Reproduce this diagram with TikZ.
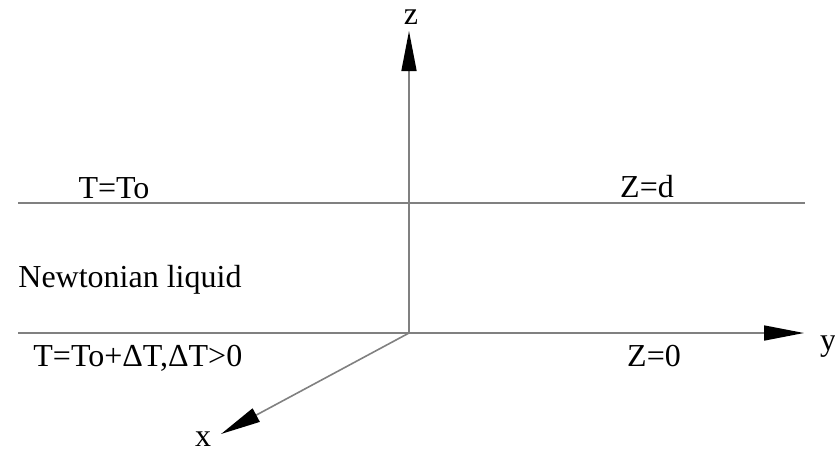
\documentclass[tikz,border=0pt]{standalone}
\usepackage{fontspec}
\setmainfont{Liberation Serif}
\usetikzlibrary{arrows.meta}

\begin{document}
\begin{tikzpicture}[
  x=0.5pt, y=-0.5pt,
  font=\fontsize{16}{19}\selectfont,
  axis/.style={draw=black!50, line width=0.8pt},
  arrow/.style={axis, -{Triangle[length=20pt, width=7.5pt, color=black]}},
  lbl/.style={inner sep=0pt, anchor=base}
]
  \useasboundingbox (0,0) rectangle (835,452);

  % axes and layer boundaries
  \coordinate (O) at (409,333);
  \coordinate (ztip) at (409,31);
  \coordinate (ytip) at (804,333);
  \coordinate (xtip) at (221,434);
  \coordinate (left0) at (18,333);
  \coordinate (leftd) at (18,203);
  \coordinate (rightd) at (805,203);

  \draw[axis] (leftd) -- (rightd);
  \draw[arrow] (left0) -- (ytip);
  \draw[arrow] (O) -- (ztip);
  \draw[arrow] (O) -- (xtip);

  % labels
  \node[lbl] (zlab) at (411,24) {z};
  \node[lbl] (ylab) at (828,350) {y};
  \node[lbl] (xlab) at (203,446) {x};
  \node[lbl] (top) at (114,198) {T=To};
  \node[lbl] (zd) at (647,197) {Z=d};
  \node[lbl, anchor=base west] (liq) at (18,287) {Newtonian liquid};
  \node[lbl, anchor=base west] (bot) at (33,366) {T=To+ΔT,ΔT>0};
  \node[lbl] (z0) at (654,366) {Z=0};
\end{tikzpicture}
\end{document}
